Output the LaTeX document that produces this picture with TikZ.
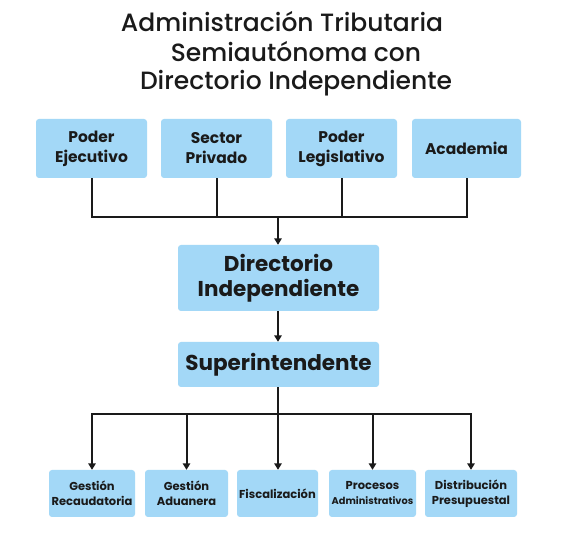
\documentclass[tikz,border=0pt]{standalone}
\usepackage{fontspec}
\setmainfont{Poppins}
\newfontfamily\titlefont{Poppins}[UprightFont=* Medium]
\usetikzlibrary{arrows.meta}
\definecolor{boxblue}{HTML}{A3D8F7}
\definecolor{ink}{HTML}{1A1A1A}
\tikzset{
  box/.style={fill=boxblue, draw=none, rounded corners=3pt, align=center, text=ink, inner sep=0pt, font=\bfseries},
  topbox/.style={box, minimum width=111pt, minimum height=59pt, font=\fontsize{15.5}{20}\selectfont\fontseries{sb}\selectfont},
  midbox/.style={box, minimum width=201pt, font=\fontsize{21.5}{25}\selectfont\fontseries{sb}\selectfont},
  botbox/.style={box, minimum height=47pt, font=\fontsize{11.5}{15}\selectfont\fontseries{sb}\selectfont},
  conn/.style={draw=ink, line width=2pt},
  arr/.style={conn, -{Triangle[length=6.5pt,width=7.5pt]}},
  title/.style={text=ink, font=\titlefont\fontsize{25}{30}\selectfont, inner sep=0pt}
}
\begin{document}
\begin{tikzpicture}[x=1pt,y=-1pt]
\useasboundingbox (0,0) rectangle (566,537);
\fill[white] (0,0) rectangle (566,537);
% title
\node[title] (t1) at (282,22) {Administración Tributaria};
\node[title] (t2) at (296,52) {Semiautónoma con};
\node[title] (t3) at (296,83) {Directorio Independiente};
% top boxes
\node[topbox] (p1) at (91.5,148.5) {Poder\\Ejecutivo};
\node[topbox] (p2) at (216.5,148.5) {Sector\\Privado};
\node[topbox] (p3) at (341.5,148.5) {Poder\\Legislativo};
\node[topbox, minimum width=109pt] (p4) at (466.5,148.5) {Academia};
% middle
\node[midbox, minimum height=66pt] (dir) at (278.5,278) {Directorio\\Independiente};
\node[midbox, minimum height=45pt] (sup) at (278.5,364.5) {Superintendente};
% bottom
\node[botbox, minimum width=86pt] (b1) at (92,493.5) {Gestión\\Recaudatoria};
\node[botbox, minimum width=83pt] (b2) at (186.5,493.5) {Gestión\\Aduanera};
\node[botbox, minimum width=81pt] (b3) at (277.5,493.5) {Fiscalización};
\node[botbox, minimum width=87pt] (b4) at (372.5,493.5) {Procesos\\{\fontsize{9.8}{12}\selectfont Administrativos}};
\node[botbox, minimum width=92pt] (b5) at (471,493.5) {Distribución\\Presupuestal};
% connectors top
\coordinate (hub) at (278,217);
\draw[conn] (p1.south) |- (hub);
\draw[conn] (p4.south) |- (hub);
\draw[conn] (p2.south) -- (p2.south |- hub);
\draw[conn] (p3.south) -- (p3.south |- hub);
\draw[arr] (hub) -- (dir.north -| hub);
\draw[arr] (dir.south -| hub) -- (sup.north -| hub);
% connectors bottom
\coordinate (hub2) at (278,414);
\draw[conn] (sup.south -| hub2) -- (hub2);
\draw[arr] (hub2) -| (b1.north);
\draw[arr] (hub2) -| (b5.north);
\draw[arr] (b2.north |- hub2) -- (b2.north);
\draw[arr] (hub2) -- (b3.north -| hub2);
\draw[arr] (b4.north |- hub2) -- (b4.north);
\end{tikzpicture}
\end{document}
